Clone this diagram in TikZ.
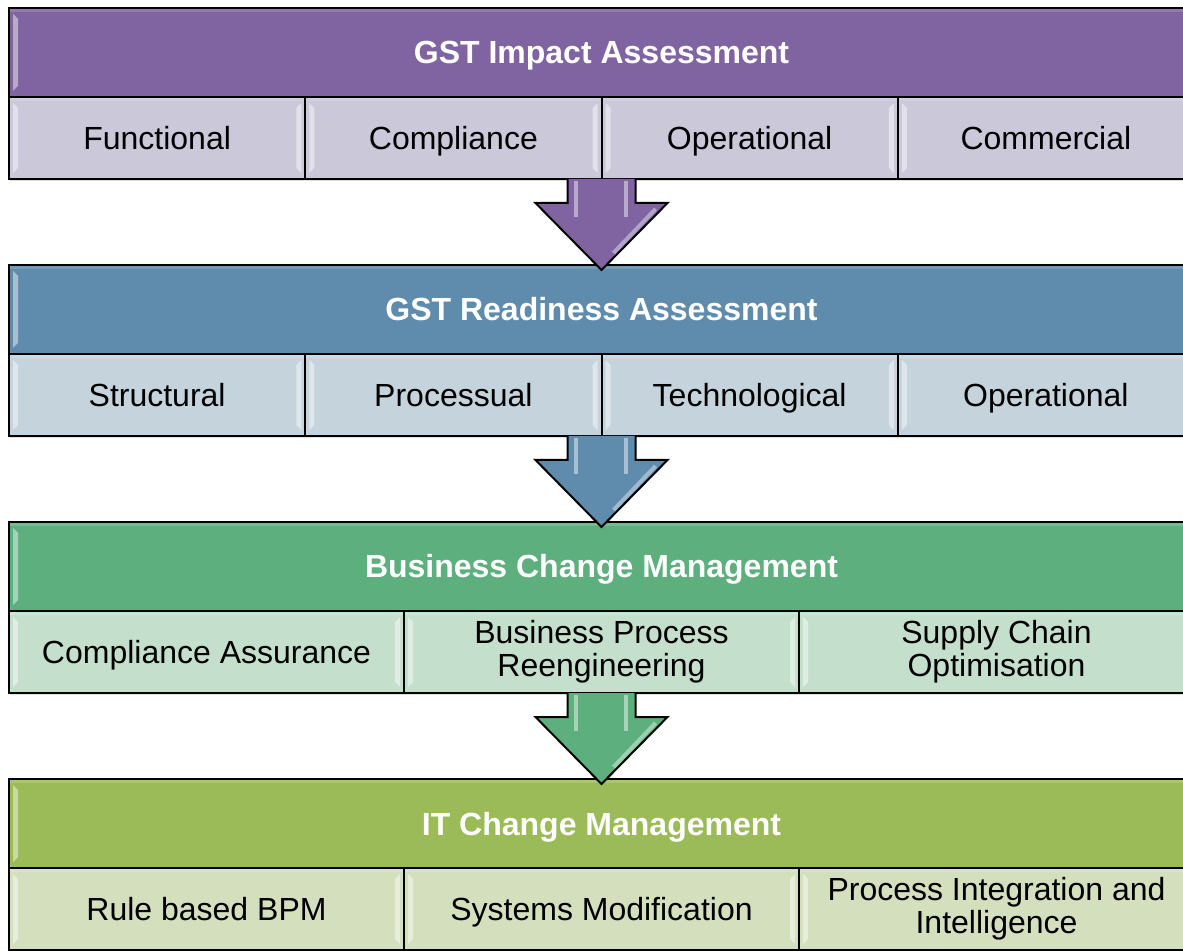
\documentclass[tikz,border=0pt]{standalone}
\usepackage{fontspec}
\setmainfont{Liberation Sans}
\usetikzlibrary{positioning,shadows}
\definecolor{impact}{HTML}{8064A2}
\definecolor{impactlt}{HTML}{CBC8DA}
\definecolor{ready}{HTML}{5F8BAD}
\definecolor{readylt}{HTML}{C5D3DC}
\definecolor{business}{HTML}{5DB07E}
\definecolor{businesslt}{HTML}{C5DFCD}
\definecolor{itchg}{HTML}{9BBB59}
\definecolor{itchglt}{HTML}{D4DFBE}

\begin{document}
\begin{tikzpicture}[x=0.5pt,y=-0.5pt,
    box/.style={draw=black,line width=1pt,inner sep=0pt,outer sep=0pt,anchor=north west,align=center,
      font=\fontsize{16}{16.5}\selectfont,drop shadow={opacity=0.25,shadow xshift=0.6pt,shadow yshift=-1.2pt}},
    bevel/.style={path picture={
      \fill[white,opacity=.45] ([shift={(2pt,-3pt)}]path picture bounding box.north west) -- ++(2.5pt,-2.5pt)
        -- ([shift={(4.5pt,5.5pt)}]path picture bounding box.south west) -- ++(-2.5pt,-2.5pt) -- cycle;
      \fill[white,opacity=.45] ([shift={(-2pt,-3pt)}]path picture bounding box.north east) -- ++(-2.5pt,-2.5pt)
        -- ([shift={(-4.5pt,5.5pt)}]path picture bounding box.south east) -- ++(2.5pt,-2.5pt) -- cycle;
      \fill[white,opacity=.15] (path picture bounding box.north west) rectangle ([yshift=-2pt]path picture bounding box.north east);}},
    header/.style={box,bevel,fill=#1,text=white,font=\fontsize{16}{16.5}\selectfont\bfseries,
      minimum width=592.5pt,minimum height=44.5pt,text height=11.5pt,text depth=0pt},
    cell/.style={box,bevel,fill=#1,minimum height=41pt},
    oneline/.style={text height=11.5pt,text depth=0pt},
    twoline/.style={yshift=-1pt},
    four/.style={minimum width=148.125pt},
    three/.style={minimum width=197.5pt},
    flow/.style={fill=#1,draw=black,line width=1pt,line join=miter}]
  \useasboundingbox (0,0) rectangle (1183,951);
  \clip (0,0) rectangle (1183,951);

  \node[header=impact] (impact) at (9,8) {GST Impact Assessment};
  \node[cell=impactlt,four,oneline] (functional) at (impact.south west) {Functional};
  \node[cell=impactlt,four,oneline,right=0pt of functional] (compliance) {Compliance};
  \node[cell=impactlt,four,oneline,right=0pt of compliance] (operational) {Operational};
  \node[cell=impactlt,four,oneline,right=0pt of operational] (commercial) {Commercial};

  \node[header=ready] (ready) at (9,265) {GST Readiness Assessment};
  \node[cell=readylt,four,oneline] (structural) at (ready.south west) {Structural};
  \node[cell=readylt,four,oneline,right=0pt of structural] (processual) {Processual};
  \node[cell=readylt,four,oneline,right=0pt of processual] (technological) {Technological};
  \node[cell=readylt,four,oneline,right=0pt of technological] (operations) {Operational};

  \node[header=business] (business) at (9,522) {Business Change Management};
  \node[cell=businesslt,three,oneline] (assurance) at (business.south west) {Compliance Assurance};
  \node[cell=businesslt,three,right=0pt of assurance] (bpr) {Business Process\\Reengineering};
  \node[cell=businesslt,three,right=0pt of bpr] (supply) {Supply Chain\\Optimisation};

  \node[header=itchg] (itchg) at (9,779) {IT Change Management};
  \node[cell=itchglt,three,oneline] (bpm) at (itchg.south west) {Rule based BPM};
  \node[cell=itchglt,three,oneline,right=0pt of bpm] (systems) {Systems Modification};
  \node[cell=itchglt,three,right=0pt of systems] (intel) {Process Integration and\\Intelligence};

  \coordinate (a1) at (functional.south -| impact.south);
  \coordinate (a2) at (structural.south -| ready.south);
  \coordinate (a3) at (assurance.south -| business.south);

  \foreach \from/\to/\col in {a1/ready/impact,a2/business/ready,a3/itchg/business}{
    \filldraw[flow=\col] ([xshift=-17pt]\from) -- ([xshift=-17pt,yshift=-12pt]\from)
      -- ([xshift=-33pt,yshift=-12pt]\from) -- ([yshift=-2.5pt]\to.north)
      -- ([xshift=33pt,yshift=-12pt]\from) -- ([xshift=17pt,yshift=-12pt]\from) -- ([xshift=17pt]\from);
    \draw[white,opacity=.45,line width=2pt] ([xshift=-13pt,yshift=-1pt]\from) -- ([xshift=-13pt,yshift=-19pt]\from);
    \draw[white,opacity=.45,line width=2pt] ([xshift=12pt,yshift=-1pt]\from) -- ([xshift=12pt,yshift=-19pt]\from);
    \draw[white,opacity=.4,line width=2pt] ([shift={(27pt,-15pt)}]\from) -- ([shift={(6pt,-37pt)}]\from);
  }
\end{tikzpicture}
\end{document}
